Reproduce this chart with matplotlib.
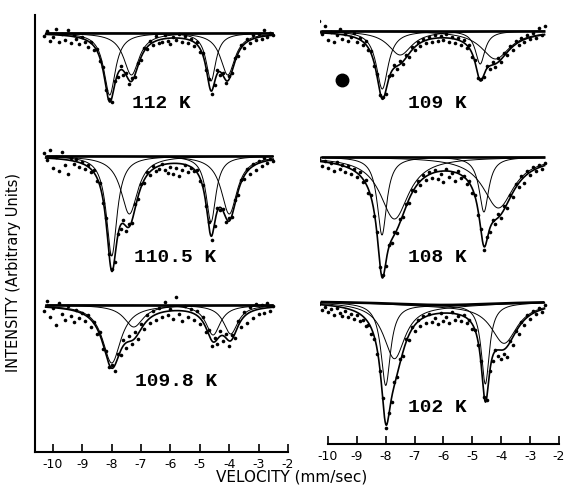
import numpy as np
import matplotlib
matplotlib.use("Agg")
import matplotlib.pyplot as plt

# Velocity channels (mm/s)
velocity = [-10.3, -10.2, -10.1, -10.0, -9.9, -9.8, -9.7, -9.6, -9.5, -9.4,
            -9.3, -9.2, -9.1, -9.0, -8.9, -8.8, -8.7, -8.6, -8.5, -8.4,
            -8.3, -8.2, -8.1, -8.0, -7.9, -7.8, -7.7, -7.6, -7.5, -7.4,
            -7.3, -7.2, -7.1, -7.0, -6.9, -6.8, -6.7, -6.6, -6.5, -6.4,
            -6.3, -6.2, -6.1, -6.0, -5.9, -5.8, -5.7, -5.6, -5.5, -5.4,
            -5.3, -5.2, -5.1, -5.0, -4.9, -4.8, -4.7, -4.6, -4.5, -4.4,
            -4.3, -4.2, -4.1, -4.0, -3.9, -3.8, -3.7, -3.6, -3.5, -3.4,
            -3.3, -3.2, -3.1, -3.0, -2.9, -2.8, -2.7, -2.6, -2.5]

# Measured absorption at each channel (arbitrary units below the baseline)
abs_112 = [3, -2, 8, 4, -4, 9, 1, 7, -3, 10, 2, 6, 11, 4, 9, 14, 9, 17, 16, 28,
           34, 57, 66, 69, 48, 44, 33, 42, 40, 51, 45, 44, 30, 27, 15, 16, 8, 12, 3, 10,
           9, 2, 8, 11, 4, 7, 1, 9, 3, 10, 6, 13, 9, 19, 20, 37, 46, 61, 52, 37,
           42, 40, 50, 43, 40, 25, 23, 12, 15, 6, 10, 2, 7, 1, 6, -3, 4, 0, 2]
abs_110_5 = [-3, 4, -6, 12, 1, 15, -4, 9, 18, 2, 8, 3, 11, 6, 13, 9, 16, 14, 25, 27,
             47, 62, 98, 113, 106, 78, 73, 64, 75, 68, 67, 48, 43, 28, 27, 16, 19, 10, 15, 13,
             8, 14, 17, 11, 18, 12, 20, 14, 9, 16, 12, 15, 14, 25, 29, 50, 66, 84, 70, 52,
             54, 53, 66, 62, 61, 44, 39, 24, 23, 13, 18, 8, 14, 5, 10, 2, 7, 3, 5]
abs_109_8 = [6, -4, 12, 3, 20, -2, 9, 15, 1, 11, 17, 5, 13, 8, 16, 10, 22, 17, 29, 27,
             44, 46, 62, 60, 66, 49, 50, 35, 43, 31, 39, 27, 34, 19, 24, 10, 18, 6, 15, 3,
             12, -3, 10, 4, 14, -8, 9, 16, 1, 12, 4, 15, 6, 19, 12, 27, 25, 41, 33, 39,
             26, 36, 29, 41, 30, 33, 16, 22, 7, 18, 2, 13, -1, 9, 0, 8, -2, 6, 1]
abs_109 = [-10, 3, -5, 9, 1, 11, 4, -2, 8, 3, 10, 6, 2, 11, 7, 14, 10, 19, 20, 35,
           43, 64, 66, 63, 45, 44, 34, 38, 30, 33, 24, 26, 16, 19, 11, 15, 8, 12, 6, 11,
           4, 10, 5, 9, 3, 11, 6, 12, 7, 14, 9, 17, 14, 26, 29, 47, 48, 46, 35, 38,
           31, 36, 27, 31, 22, 24, 15, 19, 10, 14, 7, 11, 4, 8, 2, 7, -3, 4, -5]
abs_108 = [2, 9, 4, 11, 6, 14, 5, 12, 8, 15, 9, 17, 12, 20, 15, 25, 23, 36, 38, 59,
           75, 110, 118, 109, 88, 86, 75, 76, 62, 60, 47, 46, 33, 34, 24, 28, 18, 23, 15, 21,
           13, 22, 17, 25, 12, 20, 16, 24, 14, 21, 19, 27, 24, 36, 38, 58, 72, 93, 80, 75,
           63, 67, 57, 61, 49, 51, 38, 40, 27, 30, 19, 26, 14, 18, 10, 14, 8, 12, 6]
abs_102 = [3, 9, 6, 11, 8, 14, 7, 12, 15, 10, 16, 13, 18, 14, 20, 19, 25, 24, 33, 38,
           53, 70, 97, 127, 112, 101, 81, 76, 58, 55, 38, 39, 26, 30, 19, 25, 15, 22, 13, 21,
           17, 23, 12, 20, 16, 22, 11, 19, 15, 20, 14, 22, 19, 28, 29, 44, 60, 96, 99, 70,
           60, 49, 55, 58, 53, 56, 40, 44, 30, 33, 21, 24, 14, 18, 10, 13, 7, 11, 4]

# Fitted Lorentzian lines: (centre mm/s, half width mm/s, depth)
fit_112 = [(-8.07, 0.24, 62), (-7.33, 0.32, 42), (-4.62, 0.20, 48), (-4.05, 0.30, 42)]
fit_110_5 = [(-8.00, 0.22, 100), (-7.40, 0.35, 58), (-4.62, 0.20, 66), (-4.00, 0.33, 58)]
fit_109_8 = [(-8.00, 0.38, 58), (-7.25, 0.40, 22), (-4.55, 0.30, 30), (-3.95, 0.30, 29)]
fit_109 = [(-8.12, 0.25, 58), (-7.50, 0.50, 24), (-4.73, 0.20, 33), (-4.20, 0.60, 28)]
fit_108 = [(-8.13, 0.20, 78), (-7.70, 0.60, 62), (-4.60, 0.20, 55), (-4.10, 0.65, 51)]
fit_102 = [(-8.00, 0.20, 82), (-7.70, 0.45, 55), (-4.55, 0.17, 80), (-3.90, 0.55, 40)]
background_102 = (-6.0, 2.5, 4)

# Vertical offset (baseline) of each spectrum in its column
temps_left = ["112 K", "110.5 K", "109.8 K"]
temps_right = ["109 K", "108 K", "102 K"]
baseline = {"112 K": 419, "110.5 K": 296, "109.8 K": 147,
            "109 K": 413, "108 K": 287, "102 K": 143}
data = {"112 K": abs_112, "110.5 K": abs_110_5, "109.8 K": abs_109_8,
        "109 K": abs_109, "108 K": abs_108, "102 K": abs_102}
fits = {"112 K": fit_112, "110.5 K": fit_110_5, "109.8 K": fit_109_8,
        "109 K": fit_109, "108 K": fit_108, "102 K": fit_102}
label_pos = {"112 K": (-6.3, 349), "110.5 K": (-5.85, 195), "109.8 K": (-5.8, 71),
             "109 K": (-6.2, 341), "108 K": (-6.2, 186), "102 K": (-6.2, 36)}


def lorentz(v, c, w, d):
    return d / (1 + ((v - c) / w) ** 2)


W, H = 570, 487
fig = plt.figure(figsize=(W / 100, H / 100), dpi=100)
axL = fig.add_axes([35 / W, 1 - 452 / H, (288 - 35) / W, (452 - 15) / H])
axR = fig.add_axes([320 / W, 1 - 444 / H, (559 - 320) / W, (444 - 15) / H])
axL.set_xlim(-10.612, -2.0)
axL.set_ylim(0, 437)
axR.set_xlim(-10.277, -2.0)
axR.set_ylim(0, 429)

vv = np.linspace(-10.25, -2.5, 700)
vel = np.array(velocity)
for ax, names in ((axL, temps_left), (axR, temps_right)):
    for k in names:
        b = baseline[k]
        comps = fits[k]
        bg = lorentz(vv, *background_102) if k == "102 K" else np.zeros_like(vv)
        top = b - bg
        ax.plot(vv, top, color="k", lw=1.9, solid_capstyle="butt")
        for c in comps:
            ax.plot(vv, top - lorentz(vv, *c), color="k", lw=0.7)
        total = top - sum(lorentz(vv, *c) for c in comps)
        ax.plot(vv, total, color="k", lw=1.2)
        ax.plot(vel, b - np.array(data[k]), "o", color="k", ms=2.6, mew=0)
        ax.text(*label_pos[k], k, family="Liberation Mono", fontweight="bold",
                fontsize=14, ha="center", va="center")
    for s in ("top", "right"):
        ax.spines[s].set_visible(False)
    ax.set_yticks([])
    ticks = list(range(-10, -1))
    ax.set_xticks(ticks)
    ax.set_xticklabels([str(t) for t in ticks], fontsize=9)
    ax.tick_params(axis="x", direction="in", length=6, width=1.2, pad=4)
    for s in ax.spines.values():
        s.set_linewidth(1.5)

axR.spines["left"].set_visible(False)
axR.spines["bottom"].set_bounds(-10, -2)
axR.plot([-9.52], [364], "o", color="k", ms=9)

fig.text(292 / W, 1 - 477 / H, "VELOCITY (mm/sec)", ha="center", va="center", fontsize=11)
fig.text(14 / W, 1 - 272 / H, "INTENSITY (Arbitrary Units)", ha="center", va="center",
         rotation=90, fontsize=10.5)
fig.savefig("out.png", dpi=100)
